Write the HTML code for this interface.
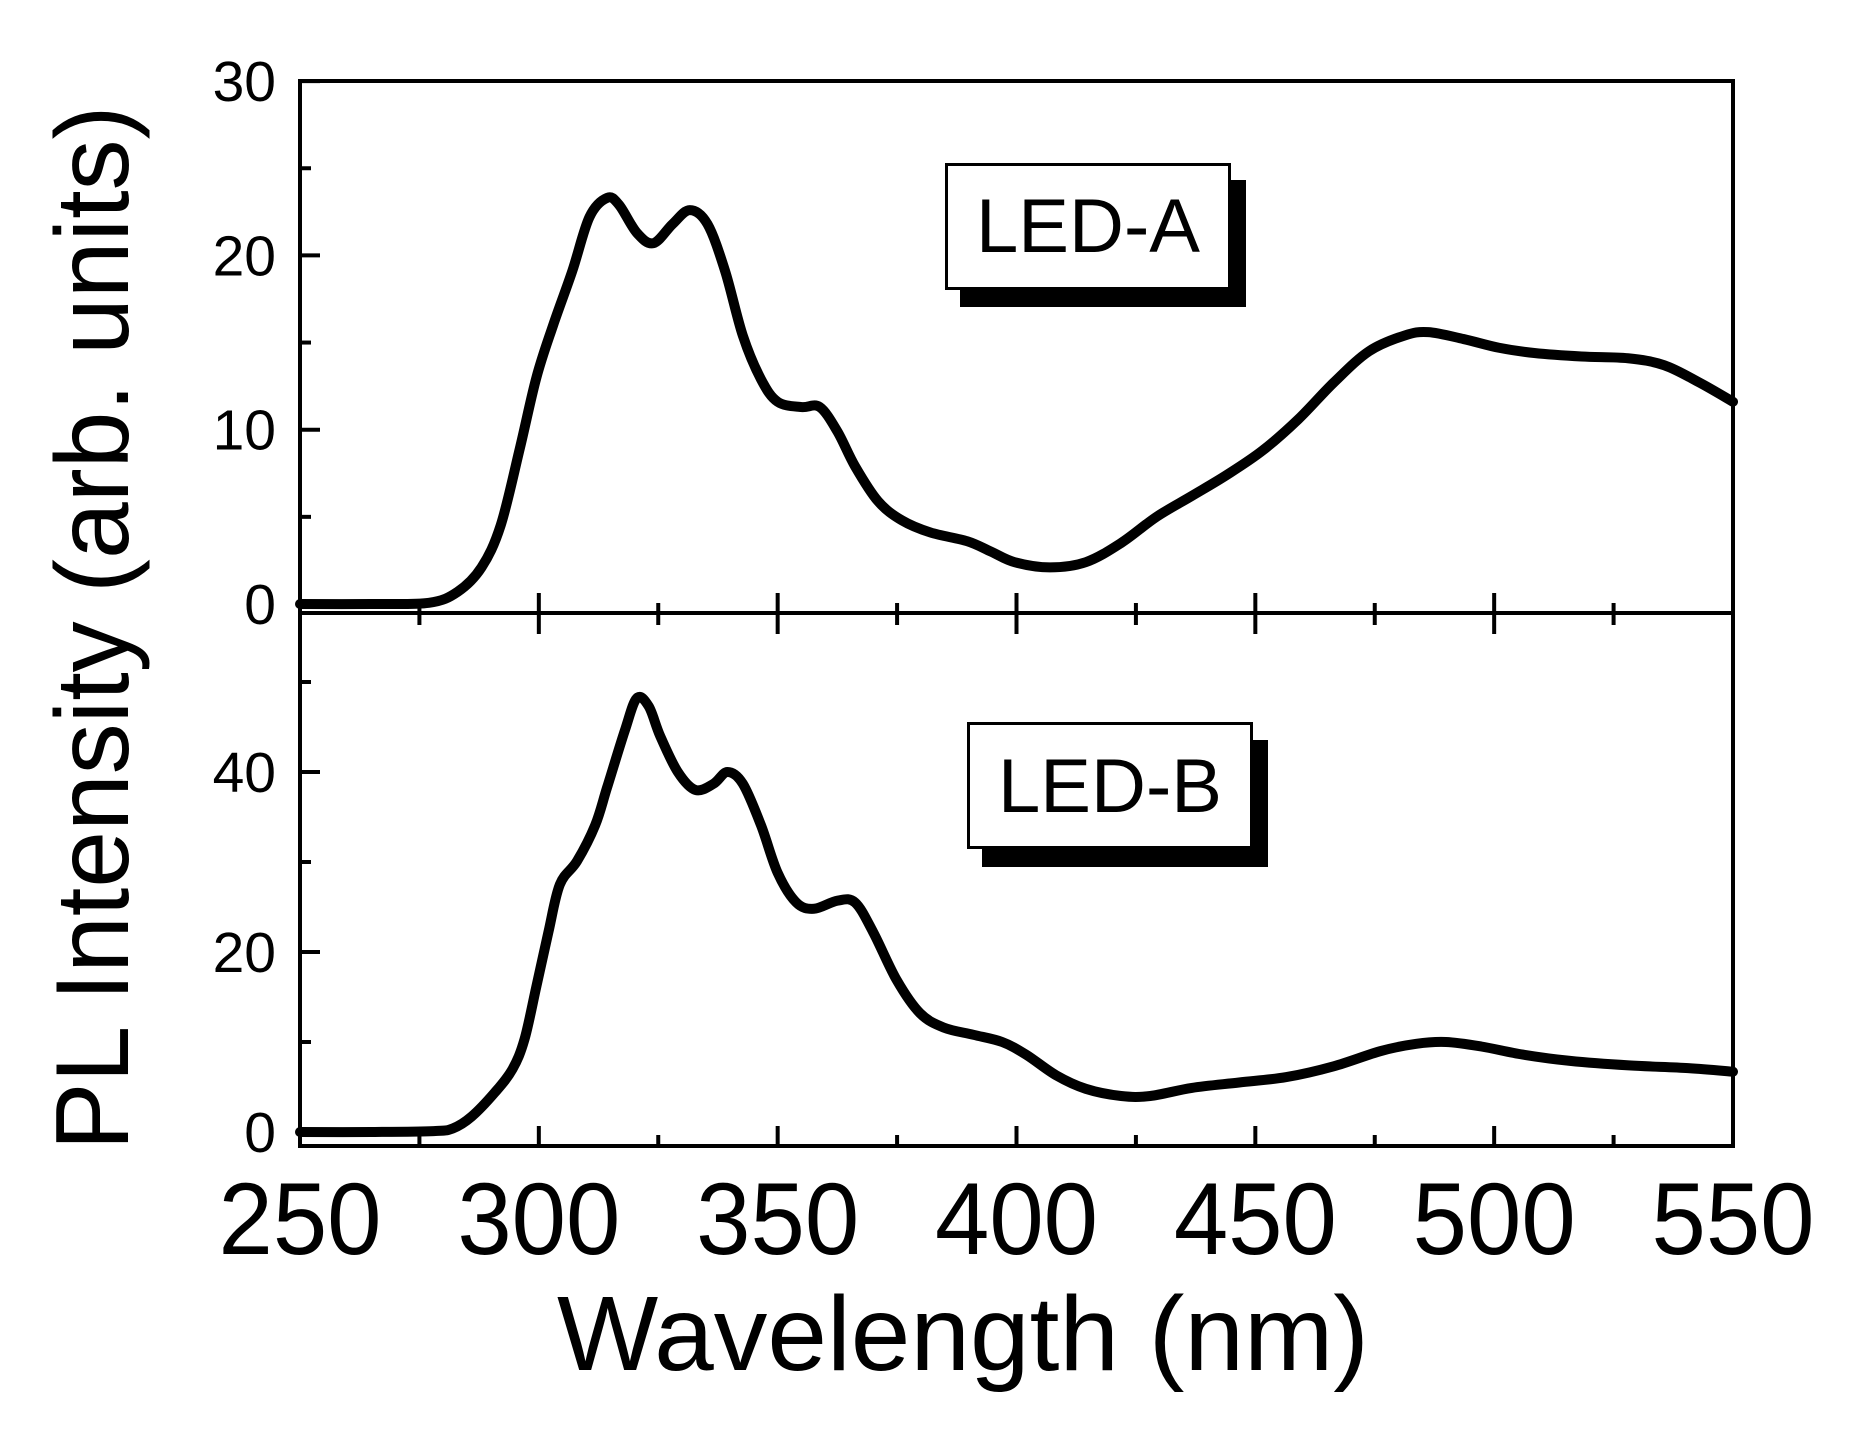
<!DOCTYPE html>
<html><head><meta charset="utf-8"><style>
html,body{margin:0;padding:0;background:#fff;}
svg{display:block;font-family:"Liberation Sans",Arial,sans-serif;}
</style></head><body>
<svg id="chart" width="1850" height="1429" viewBox="0 0 1850 1429" xmlns="http://www.w3.org/2000/svg">
<g id="axes"></g>
<g id="series"></g>
<g>
<rect x="960" y="180" width="286" height="127" fill="#000"/>
<rect x="946.5" y="164.5" width="283" height="124" fill="#fff" stroke="#000" stroke-width="3"/>
<text x="1088" y="252" font-size="76" text-anchor="middle" textLength="224" lengthAdjust="spacingAndGlyphs">LED-A</text>
</g>
<g>
<rect x="982" y="740" width="286" height="127" fill="#000"/>
<rect x="968.5" y="723.5" width="283" height="124" fill="#fff" stroke="#000" stroke-width="3"/>
<text x="1110" y="812" font-size="76" text-anchor="middle" textLength="224" lengthAdjust="spacingAndGlyphs">LED-B</text>
</g>
<text x="963" y="1370" font-size="106" text-anchor="middle" textLength="812" lengthAdjust="spacingAndGlyphs">Wavelength (nm)</text>
<text transform="translate(128,628) rotate(-90)" font-size="104" text-anchor="middle" textLength="1045" lengthAdjust="spacingAndGlyphs">PL Intensity (arb. units)</text>
</svg>
<script>
const xTicks = [250, 300, 350, 400, 450, 500, 550];
const xMinor = [275, 325, 375, 425, 475, 525];
const yTicksA = [0, 10, 20, 30];
const yMinorA = [5, 15, 25];
const yTicksB = [0, 20, 40];
const yMinorB = [10, 30, 50];
const wlA = [250,265,277,283,288,292,296,299.5,303,307,310.6,314.3,316.8,320.5,324,328,331.6,335.3,339,342.7,346.5,350,355,358.8,362.5,366.2,371,376,382,389.7,394.7,399.6,407,414.5,421.9,429.3,436.7,444,451.5,459,466.4,473.8,481.2,486.2,493.6,501,508.4,518.3,528,535.6,543,550];
const valA = [0,0,0.07,0.7,2.1,4.5,8.9,13,16,19.1,22.2,23.3,22.9,21.3,20.7,21.8,22.6,21.8,19.1,15.4,12.9,11.6,11.3,11.3,9.9,7.9,5.9,4.8,4.1,3.6,3.0,2.4,2.1,2.4,3.5,5.0,6.2,7.4,8.8,10.6,12.7,14.5,15.4,15.6,15.2,14.7,14.4,14.2,14.1,13.7,12.7,11.6];
const wlB = [250,265,278,282,285.9,290.8,294.5,297,299.5,302,304.4,308,311.8,314.3,318,320.5,323,325.4,329.1,332.8,336.6,339.5,342.7,346.5,350,353.9,357.6,362.5,366.2,370,374.9,379.8,384.8,391,397,402,408.3,414.5,421.9,428,436.7,446.6,456.5,466.4,476.3,483.7,489.9,497.3,506,515.9,528.2,540.6,550];
const valB = [0,0,0.1,0.4,1.7,4.4,7.0,10.3,16.2,22.2,27.5,30.1,34.1,38.3,44.6,48.2,47.3,44.0,40,38,38.7,40,38.7,34.1,28.8,25.5,24.8,25.7,25.5,22.2,16.9,13.2,11.6,10.8,10.0,8.6,6.3,4.8,4.0,4.0,4.9,5.5,6.1,7.3,9.0,9.8,10.0,9.5,8.6,7.9,7.4,7.1,6.7];

const NS = 'http://www.w3.org/2000/svg';
const L = 300, R = 1733, T = 81, MID = 613, B = 1146;
const x = v => L + (v - 250) * (R - L) / 300;
const yA = v => 604 - v * 17.43;
const yB = v => 1132 - v * 9;
const axes = document.getElementById('axes');
const series = document.getElementById('series');
function mk(tag, attrs, parent) {
  const e = document.createElementNS(NS, tag);
  for (const k in attrs) e.setAttribute(k, attrs[k]);
  parent.appendChild(e);
  return e;
}
let e;
e = mk('rect', {x: L, y: T, width: R - L, height: B - T, fill: 'none', stroke: '#000', 'stroke-width': 4}, axes);


e = mk('line', {x1: L, x2: R, y1: MID, y2: MID, stroke: '#000', 'stroke-width': 4}, axes);


xTicks.forEach(v => {
  e = mk('line', {x1: x(v), x2: x(v), y1: MID - 20, y2: MID + 21, stroke: '#000', 'stroke-width': 4}, axes);
  
  
  e = mk('line', {x1: x(v), x2: x(v), y1: B, y2: B - 20, stroke: '#000', 'stroke-width': 4}, axes);
  
  
  e = mk('text', {x: x(v), y: 1254, 'font-size': 102, 'text-anchor': 'middle', textLength: 163, lengthAdjust: 'spacingAndGlyphs'}, axes);
  e.textContent = v;
  
  
});
xMinor.forEach(v => {
  e = mk('line', {x1: x(v), x2: x(v), y1: MID - 10, y2: MID + 12, stroke: '#000', 'stroke-width': 4}, axes);
  
  
  e = mk('line', {x1: x(v), x2: x(v), y1: B, y2: B - 11, stroke: '#000', 'stroke-width': 4}, axes);
  
  
});
function yAxis(ticks, minor, fy, nm) {
  ticks.forEach(v => {
    e = mk('line', {x1: L, x2: L + 20, y1: fy(v), y2: fy(v), stroke: '#000', 'stroke-width': 4}, axes);
    
    
    e = mk('text', {x: 276, y: fy(v) + 20, 'font-size': 57, 'text-anchor': 'end'}, axes);
    e.textContent = v;
    
    
  });
  minor.forEach(v => {
    e = mk('line', {x1: L, x2: L + 11, y1: fy(v), y2: fy(v), stroke: '#000', 'stroke-width': 4}, axes);
    
    
  });
}
yAxis(yTicksA, yMinorA, yA, 'y-axis-led-a');
yAxis(yTicksB, yMinorB, yB, 'y-axis-led-b');
function smooth(xs, ys, fy) {
  const p = xs.map((w, i) => [x(w), fy(ys[i])]);
  let d = 'M' + p[0][0] + ',' + p[0][1];
  for (let i = 0; i < p.length - 1; i++) {
    const p0 = p[Math.max(0, i - 1)], p1 = p[i], p2 = p[i + 1], p3 = p[Math.min(p.length - 1, i + 2)];
    const c1 = [p1[0] + (p2[0] - p0[0]) / 6, p1[1] + (p2[1] - p0[1]) / 6];
    const c2 = [p2[0] - (p3[0] - p1[0]) / 6, p2[1] - (p3[1] - p1[1]) / 6];
    d += 'C' + c1[0] + ',' + c1[1] + ' ' + c2[0] + ',' + c2[1] + ' ' + p2[0] + ',' + p2[1];
  }
  return d;
}
e = mk('path', {d: smooth(wlA, valA, yA), fill: 'none', stroke: '#000', 'stroke-width': 10, 'stroke-linejoin': 'round', 'stroke-linecap': 'round'}, series);


e = mk('path', {d: smooth(wlB, valB, yB), fill: 'none', stroke: '#000', 'stroke-width': 10, 'stroke-linejoin': 'round', 'stroke-linecap': 'round'}, series);


</script>
</body></html>
